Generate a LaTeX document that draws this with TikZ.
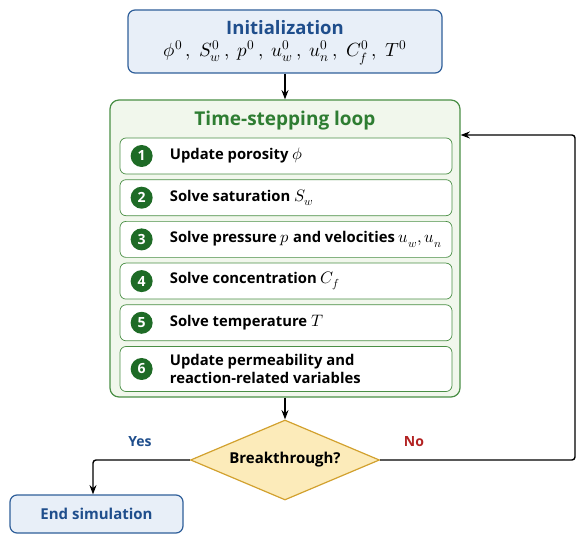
\documentclass[tikz,border=0pt]{standalone}
\usepackage{amsmath}
\usepackage{fontspec}
\usepackage{unicode-math}
\setmainfont{Open Sans}
\setmathfont{Latin Modern Math}[Scale=1.12]
\usetikzlibrary{positioning, arrows.meta, shapes.geometric}

\definecolor{initblue}{HTML}{2F5F9A}
\definecolor{initfill}{HTML}{E8EFF8}
\definecolor{titleblue}{HTML}{1F4E8C}
\definecolor{loopgreen}{HTML}{4A8F45}
\definecolor{loopfill}{HTML}{F1F7EC}
\definecolor{numgreen}{HTML}{1E6B26}
\definecolor{titlegreen}{HTML}{2E7D32}
\definecolor{decfill}{HTML}{FCEBBA}
\definecolor{decgold}{HTML}{D2A12E}
\definecolor{nored}{HTML}{B22222}

\begin{document}
\begin{tikzpicture}[x=1pt, y=-1pt, >=Stealth, node distance=5pt,
    initbox/.style={draw=initblue, fill=initfill, rounded corners=7pt, line width=1.2pt},
    loopbox/.style={draw=loopgreen, fill=loopfill, rounded corners=9pt, line width=1.2pt,
      minimum width=350pt, minimum height=297pt},
    stepbox/.style={draw=loopgreen, fill=white, rounded corners=6pt, line width=0.7pt,
      minimum width=332pt, minimum height=36pt},
    stepnum/.style={circle, fill=numgreen, text=white, font=\fontsize{14}{16}\selectfont\bfseries,
      inner sep=0pt, minimum size=22pt},
    steptext/.style={anchor=west, align=left, inner sep=0pt, font=\fontsize{14.8}{18.5}\selectfont\bfseries},
    decision/.style={diamond, draw=decgold, fill=decfill, line width=1.2pt, inner sep=0pt,
      minimum width=189pt, minimum height=80pt},
    flow/.style={->, line width=1.4pt, rounded corners=3pt}]
  \useasboundingbox (0,0) rectangle (576,537);

  % initial values
  \node[initbox, minimum width=314pt, minimum height=63pt] (init) at (285,41.5) {};
  \node[inner sep=0pt, text=titleblue, font=\fontsize{18.5}{22}\selectfont\bfseries] (inittitle) at (285,28) {Initialization};
  \node[inner sep=0pt, font=\fontsize{17}{20}\selectfont] (initvars) at (285,53)
    {$\phi^0\,,\; S_w^0\,,\; p^0\,,\; u_w^0\,,\; u_n^0\,,\; C_f^0\,,\; T^0$};

  % loop
  \node[loopbox] (loop) at (285,248.5) {};
  \node[inner sep=0pt, text=titlegreen, font=\fontsize{19}{22}\selectfont\bfseries] (looptitle) at (285,121) {Time-stepping loop};

  \node[stepbox] (s1) at (286,156) {};
  \node[stepbox, below=of s1] (s2) {};
  \node[stepbox, below=of s2] (s3) {};
  \node[stepbox, below=of s3] (s4) {};
  \node[stepbox, below=of s4] (s5) {};
  \node[stepbox, below=of s5, minimum height=45pt] (s6) {};

  \foreach \k/\txt in {1/{Update porosity $\phi$},
                       2/{Solve saturation $S_w$},
                       3/{Solve pressure $p$ and velocities $u_w, u_n$},
                       4/{Solve concentration $C_f$},
                       5/{Solve temperature $T$},
                       6/{Update permeability and\\reaction-related variables}} {
    \node[stepnum] (n\k) at ([xshift=22pt]s\k.west) {\k};
    \node[steptext] (t\k) at ([xshift=50pt]s\k.west) {\txt};
  }

  % decision
  \node[decision] (dec) at (285,460) {};
  \node[inner sep=0pt, font=\fontsize{15}{18}\selectfont\bfseries] (dectext) at (dec.center) {Breakthrough?};

  \node[initbox, minimum width=173pt, minimum height=38pt, text=titleblue,
        font=\fontsize{15}{18}\selectfont\bfseries] (endsim) at (96.5,514) {End simulation};

  \coordinate (yescorner) at (93,460);
  \coordinate (back) at (575,460);
  \coordinate (backin) at (575,135);

  \draw[flow] (init) -- (loop);
  \draw[flow] (loop) -- (dec);
  \draw[flow] (dec.west) -- (yescorner) -- (yescorner |- endsim.north);
  \draw[flow] (dec.east) -- (back) -- (backin) -- (loop.east |- backin);

  \node[inner sep=0pt, text=titleblue, font=\fontsize{14}{17}\selectfont\bfseries] (yes) at (140,442) {Yes};
  \node[inner sep=0pt, text=nored, font=\fontsize{14}{17}\selectfont\bfseries] (no) at (414,442) {No};
\end{tikzpicture}
\end{document}
